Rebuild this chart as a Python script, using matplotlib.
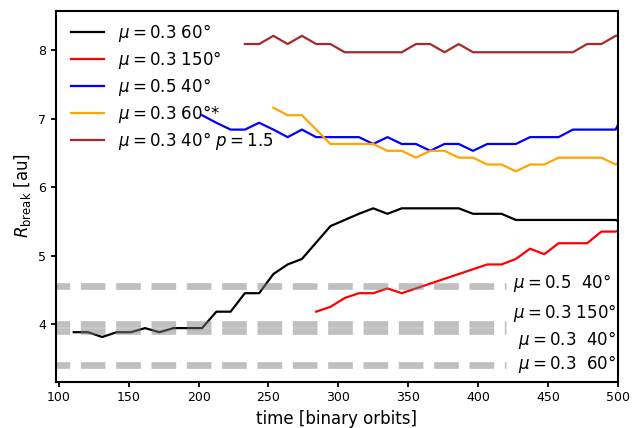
import matplotlib
matplotlib.use('Agg')
import matplotlib.pyplot as plt

# snapshot times in binary orbits
orbits = [110.7, 120.9, 131.1, 141.3, 151.5, 161.7, 171.9, 182.1, 192.3, 202.5,
          212.7, 222.9, 233.1, 243.3, 253.5, 263.7, 273.9, 284.1, 294.3, 304.5,
          314.7, 324.9, 335.1, 345.3, 355.5, 365.7, 375.9, 386.1, 396.3, 406.5,
          416.7, 426.9, 437.1, 447.3, 457.5, 467.7, 477.9, 488.1, 498.3, 508.5]

# R_break [au] per run (first value at the given index into orbits)
r_mu03_60 = [3.88, 3.88, 3.81, 3.88, 3.88, 3.94, 3.88, 3.94, 3.94, 3.94,
             4.18, 4.18, 4.45, 4.45, 4.73, 4.87, 4.95, 5.19, 5.43, 5.52,
             5.61, 5.69, 5.61, 5.69, 5.69, 5.69, 5.69, 5.69, 5.61, 5.61,
             5.61, 5.52, 5.52, 5.52, 5.52, 5.52, 5.52, 5.52, 5.52, 5.43]
r_mu03_150 = [4.18, 4.25, 4.38, 4.45, 4.45, 4.52, 4.45, 4.52, 4.59, 4.66,
              4.73, 4.80, 4.87, 4.87, 4.95, 5.10, 5.02, 5.18, 5.18, 5.18,
              5.35, 5.35, 5.43]
r_mu05_40 = [7.05, 6.94, 6.84, 6.84, 6.94, 6.84, 6.73, 6.84, 6.73, 6.73,
             6.73, 6.73, 6.63, 6.73, 6.63, 6.63, 6.53, 6.63, 6.63, 6.53,
             6.63, 6.63, 6.63, 6.73, 6.73, 6.73, 6.84, 6.84, 6.84, 6.84, 7.27]
r_mu03_60s = [7.16, 7.05, 7.05, 6.84, 6.63, 6.63, 6.63, 6.63, 6.53, 6.53,
              6.43, 6.53, 6.53, 6.43, 6.43, 6.33, 6.33, 6.23, 6.33, 6.33,
              6.43, 6.43, 6.43, 6.43, 6.33, 6.43]
r_mu03_40_p15 = [8.09, 8.09, 8.21, 8.09, 8.21, 8.09, 8.09, 7.97, 7.97, 7.97,
                 7.97, 7.97, 8.09, 8.09, 7.97, 8.09, 7.97, 7.97, 7.97, 7.97,
                 7.97, 7.97, 7.97, 7.97, 8.09, 8.09, 8.21, 8.21]

runs = [
    (r_mu03_60, 0, 'black', r'$\mu=0.3$ 60°'),
    (r_mu03_150, 17, 'red', r'$\mu=0.3$ 150°'),
    (r_mu05_40, 9, 'blue', r'$\mu=0.5$ 40°'),
    (r_mu03_60s, 14, 'orange', r'$\mu=0.3$ 60°*'),
    (r_mu03_40_p15, 12, 'brown', r'$\mu=0.3$ 40° $p=1.5$'),
]

# analytic break radii (grey dashed)
ref_r = [4.55, 4.00, 3.90, 3.40]
ref_labels = [r'$\mu=0.5$  40°', r'$\mu=0.3$ 150°', r'$\mu=0.3$  40°', r'$\mu=0.3$  60°']
ref_text_x = [425, 425, 428.5, 428.5]
ref_text_y = [4.60, 4.16, 3.77, 3.42]

plt.rcParams['axes.linewidth'] = 1.5
plt.rcParams['xtick.major.width'] = 1.3
plt.rcParams['ytick.major.width'] = 1.3

fig = plt.figure(figsize=(6.33, 4.28), dpi=100)
ax = fig.add_axes([56 / 633, 46.5 / 428, 562 / 633, 371 / 428])

for vals, i0, col, lab in runs:
    ax.plot(orbits[i0:i0 + len(vals)], vals, color=col, lw=1.6, label=lab)

for r in ref_r:
    ax.plot([90, 420], [r, r], ls='--', lw=4.8, color='gray', alpha=0.5)

for tx, ty, lab in zip(ref_text_x, ref_text_y, ref_labels):
    ax.text(tx, ty, lab, fontsize=12, va='center', ha='left')

ax.set_xlim(98, 500)
ax.set_ylim(3.16, 8.58)
ax.set_yticks([4, 5, 6, 7, 8])
ax.tick_params(labelsize=9)
ax.set_xlabel('time [binary orbits]', fontsize=12)
ax.set_ylabel(r'$R_{\rm break}$ [au]', fontsize=12)
ax.legend(loc='upper left', frameon=False, fontsize=12,
          labelspacing=0.3, bbox_to_anchor=(0, 1.009))

fig.savefig('out.png', dpi=100)
